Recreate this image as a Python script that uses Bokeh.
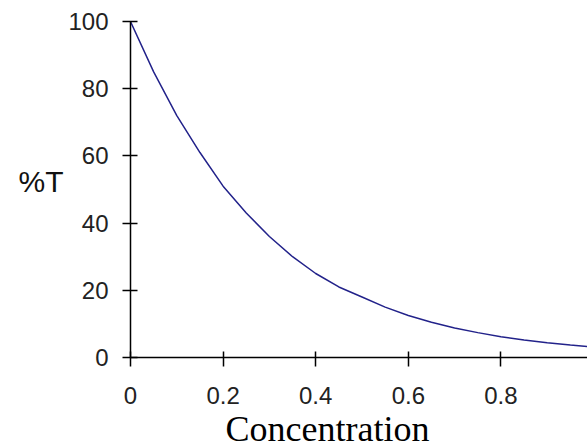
from bokeh.plotting import figure
from bokeh.models import Range1d, FixedTicker, Title
from bokeh.embed import file_html
from bokeh.resources import INLINE

# data
concentration = [0.0, 0.05, 0.10, 0.15, 0.20, 0.25, 0.30, 0.35, 0.40, 0.45, 0.50,
                 0.55, 0.60, 0.65, 0.70, 0.75, 0.80, 0.85, 0.90, 0.95, 1.0]
percent_t = [100, 85, 72, 61, 51, 43, 36, 30, 25, 21, 18,
             15, 12.5, 10.5, 8.8, 7.4, 6.2, 5.2, 4.4, 3.7, 3.1]
x_ticks = [0, 0.2, 0.4, 0.6, 0.8, 1.0]
y_ticks = [0, 20, 40, 60, 80, 100]

p = figure(width=587, height=448, output_backend="svg", toolbar_location=None,
           x_range=Range1d(0, 0.987), y_range=Range1d(0, 100),
           min_border_left=130, min_border_right=0, min_border_top=21,
           min_border_bottom=91)
p.outline_line_color = None
p.grid.visible = False
p.background_fill_color = "white"
p.border_fill_color = "white"

p.line(concentration, percent_t, line_color="#22228a", line_width=1.5)

for ax in (p.xaxis, p.yaxis):
    ax.axis_line_color = "black"
    ax.axis_line_width = 1.5
    ax.major_tick_line_color = "black"
    ax.major_tick_line_width = 1.5
    ax.minor_tick_line_color = None
    ax.major_label_text_font = "Liberation Sans"
    ax.major_label_text_font_size = "24px"
    ax.major_label_text_color = "#222222"

p.xaxis.ticker = FixedTicker(ticks=x_ticks)
p.yaxis.ticker = FixedTicker(ticks=y_ticks)
p.xaxis.major_tick_in = 6
p.xaxis.major_tick_out = 9
p.yaxis.major_tick_in = 7
p.yaxis.major_tick_out = 8
p.xaxis.major_label_standoff = 20
p.yaxis.major_label_standoff = 14
p.xaxis.major_label_overrides = {0: "0", 0.2: "0.2", 0.4: "0.4", 0.6: "0.6", 0.8: "0.8", 1.0: "1"}

p.yaxis.axis_label = "%T\n"
p.yaxis.axis_label_orientation = "horizontal"
p.yaxis.axis_label_standoff = 2
p.yaxis.axis_label_text_font = "Liberation Sans"
p.yaxis.axis_label_text_font_size = "30px"
p.yaxis.axis_label_text_font_style = "normal"
p.yaxis.axis_label_text_color = "#111111"
p.yaxis.axis_label_text_line_height = 0.5

p.add_layout(Title(text="Concentration", align="left", offset=95, standoff=0,
                   text_font="Liberation Serif", text_font_size="36px",
                   text_font_style="normal", text_color="black"), "below")

open("out.html", "w").write(file_html(p, INLINE))
